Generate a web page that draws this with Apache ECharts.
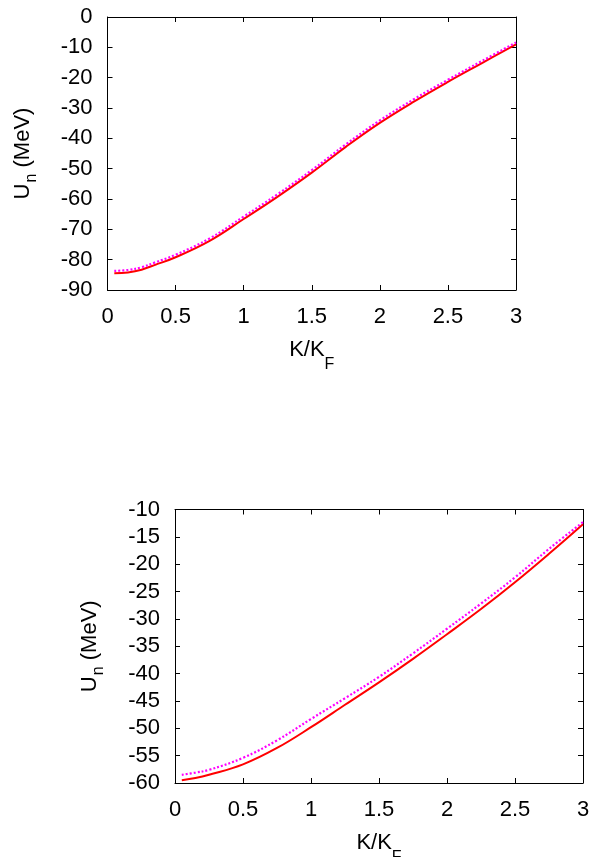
<!DOCTYPE html>
<html>
<head>
<meta charset="utf-8">
<script src="https://cdn.jsdelivr.net/npm/echarts@6/dist/echarts.min.js"></script>
<style>
html,body{margin:0;padding:0;background:#fff;}
#c{width:598px;height:857px;}
</style>
</head>
<body>
<div id="c"></div>
<script>
// Data
var kTop = [0.05, 0.15, 0.25, 0.35, 0.5, 0.75, 1.0, 1.25, 1.5, 1.75, 2.0, 2.25, 2.5, 2.75, 3.0];
var topRed = [-84.5, -84.2, -83.3, -81.7, -79.2, -73.8, -66.6, -59.2, -51.3, -42.8, -34.9, -27.9, -21.4, -15.2, -9.0];
var topMagenta = [-83.7, -83.4, -82.5, -80.9, -78.4, -73.0, -65.8, -58.4, -50.5, -42.0, -34.1, -27.1, -20.7, -14.5, -8.4];

var kBot = [0.05, 0.15, 0.25, 0.5, 0.75, 1.0, 1.25, 1.5, 1.75, 2.0, 2.25, 2.5, 2.75, 3.0];
var botRed = [-59.5, -59.1, -58.5, -56.6, -53.6, -49.8, -45.7, -41.6, -37.3, -32.8, -28.2, -23.3, -18.1, -12.7];
var botMagenta = [-58.5, -58.1, -57.6, -55.4, -52.2, -48.3, -44.5, -40.6, -36.3, -31.8, -27.2, -22.4, -17.2, -12.3];

var xTicks = {min: 0, max: 3, interval: 0.5};
var yTop = {min: -90, max: 0, interval: 10};
var yBot = {min: -60, max: -10, interval: 5};

function pairs(xs, ys) { return xs.map(function (x, i) { return [x, ys[i]]; }); }

var FONT = '"Liberation Sans", Arial, sans-serif';
var FS = 22;
var black = '#000';

function xAx(grid, pos, labels) {
  return {
    type: 'value', gridIndex: grid, position: pos,
    min: xTicks.min, max: xTicks.max, interval: xTicks.interval,
    axisLine: {show: true, onZero: false, lineStyle: {color: black, width: 1}},
    axisTick: {show: true, inside: true, length: 5, lineStyle: {color: black}},
    axisLabel: {show: labels, color: black, fontFamily: FONT, fontSize: FS, margin: 16,
      formatter: function (v) { return String(v); }},
    splitLine: {show: false},
    name: labels ? '{a|K/K}{s|F}' : '',
    nameLocation: 'middle', nameGap: 49,
    nameTextStyle: {
      rich: {
        a: {fontFamily: FONT, fontSize: FS, color: black, lineHeight: 24, verticalAlign: 'top'},
        s: {fontFamily: FONT, fontSize: 16, color: black, lineHeight: 24, verticalAlign: 'top', padding: [18, 0, 0, 0]}
      }
    }
  };
}
function yAx(grid, pos, labels, r) {
  return {
    type: 'value', gridIndex: grid, position: pos,
    min: r.min, max: r.max, interval: r.interval,
    axisLine: {show: true, onZero: false, lineStyle: {color: black, width: 1}},
    axisTick: {show: true, inside: true, length: 5, lineStyle: {color: black}},
    axisLabel: {show: labels, color: black, fontFamily: FONT, fontSize: FS, margin: 15},
    splitLine: {show: false},
    name: labels ? '{a|U}{s|n}{a| (MeV)}' : '',
    nameLocation: 'middle', nameGap: 72, nameRotate: 90,
    nameTextStyle: {
      rich: {
        a: {fontFamily: FONT, fontSize: FS, color: black, lineHeight: 24, verticalAlign: 'top'},
        s: {fontFamily: FONT, fontSize: 16, color: black, lineHeight: 24, verticalAlign: 'top', padding: [12, 0, 0, 1]}
      }
    }
  };
}

function lineSeries(xi, yi, data, color, dotted) {
  return {
    type: 'line', xAxisIndex: xi, yAxisIndex: yi, data: data,
    smooth: 0.4, symbol: 'none', silent: true, animation: false,
    lineStyle: dotted ? {color: color, width: 2.2, type: [2, 2], cap: 'butt'}
                      : {color: color, width: 2, type: 'solid'},
    z: dotted ? 3 : 2
  };
}

var chart = echarts.init(document.getElementById('c'), null, {renderer: 'canvas'});
chart.setOption({
  backgroundColor: '#fff',
  animation: false,
  grid: [
    {left: 107.5, top: 17, width: 408.5, height: 273, containLabel: false, outerBoundsMode: 'none'},
    {left: 175, top: 509.5, width: 408, height: 273.5, containLabel: false, outerBoundsMode: 'none'}
  ],
  xAxis: [xAx(0, 'bottom', true), xAx(0, 'top', false), xAx(1, 'bottom', true), xAx(1, 'top', false)],
  yAxis: [yAx(0, 'left', true, yTop), yAx(0, 'right', false, yTop), yAx(1, 'left', true, yBot), yAx(1, 'right', false, yBot)],
  series: [
    lineSeries(0, 0, pairs(kTop, topMagenta), '#ff00ff', true),
    lineSeries(0, 0, pairs(kTop, topRed), '#ff0000', false),
    lineSeries(2, 2, pairs(kBot, botMagenta), '#ff00ff', true),
    lineSeries(2, 2, pairs(kBot, botRed), '#ff0000', false)
  ]
});
</script>
</body>
</html>
